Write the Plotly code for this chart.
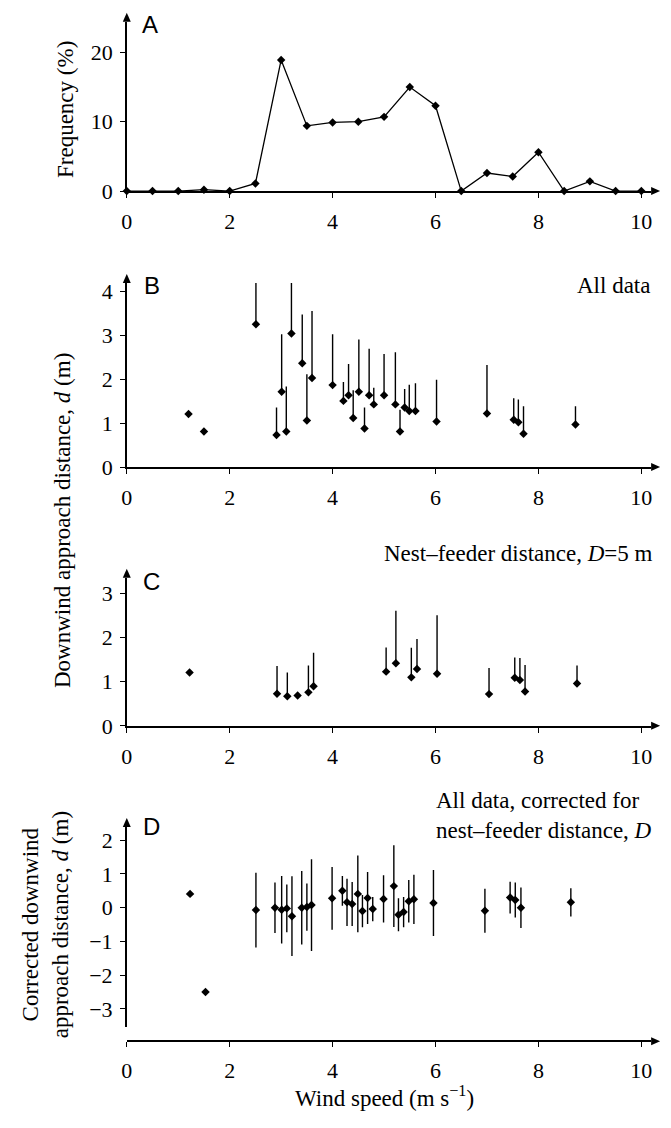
import plotly.graph_objects as go

OFF = 8  # default page body margin of the browser
W, H = 671 - 2 * OFF, 1128 - 2 * OFF


def px(x):
    return (x - OFF) / W


def py(y):
    return 1 - (y - OFF) / H


# ---------------- Data ----------------
# Panel A: frequency distribution of wind speed
a_wind = [0, 0.5, 1, 1.5, 2, 2.5, 3, 3.5, 4, 4.5, 5, 5.5, 6, 6.5, 7, 7.5, 8, 8.5, 9, 9.5, 10]
a_freq = [0, 0, 0, 0.2, 0, 1.1, 18.9, 9.4, 9.9, 10.0, 10.7, 15.0, 12.3, 0, 2.6, 2.1, 5.6, 0, 1.4, 0, 0]

# Panel B: all data (mean and upper whisker end)
b_wind = [1.20, 1.50, 2.51, 2.91, 3.01, 3.10, 3.20, 3.41, 3.50, 3.60, 4.00, 4.21, 4.31, 4.40, 4.51,
          4.62, 4.71, 4.80, 5.00, 5.22, 5.31, 5.40, 5.49, 5.61, 6.02, 7.00, 7.52, 7.61, 7.71, 8.72]
b_dist = [1.21, 0.81, 3.26, 0.73, 1.72, 0.81, 3.05, 2.37, 1.06, 2.03, 1.87, 1.51, 1.64, 1.12, 1.72,
          0.88, 1.64, 1.43, 1.64, 1.43, 0.81, 1.36, 1.28, 1.28, 1.04, 1.22, 1.08, 1.02, 0.76, 0.97]
b_upper = [None, None, 4.40, 1.36, 3.03, 1.84, 4.23, 3.48, 2.12, 3.56, 3.03, 1.94, 2.35, 1.75, 2.91,
           1.36, 2.70, 1.81, 2.58, 2.62, 1.31, 1.78, 1.88, 1.91, 1.99, 2.33, 1.57, 1.54, 1.39, 1.39]

# Panel C: nest-feeder distance D = 5 m
c_wind = [1.22, 2.92, 3.12, 3.32, 3.53, 3.63, 5.04, 5.23, 5.53, 5.64, 6.03, 7.04, 7.54, 7.64, 7.74, 8.75]
c_dist = [1.21, 0.73, 0.67, 0.69, 0.76, 0.90, 1.23, 1.42, 1.10, 1.29, 1.18, 0.72, 1.09, 1.04, 0.78, 0.96]
c_upper = [None, 1.36, 1.21, None, 1.37, 1.66, 1.78, 2.61, 1.77, 1.97, 2.51, 1.31, 1.55, 1.54, 1.38, 1.37]

# Panel D: corrected for nest-feeder distance (mean +/- error)
d_wind = [1.23, 1.53, 2.51, 2.88, 3.01, 3.11, 3.21, 3.40, 3.50, 3.59, 3.99, 4.19, 4.28, 4.38, 4.49,
          4.58, 4.68, 4.78, 4.99, 5.19, 5.28, 5.38, 5.48, 5.58, 5.96, 6.96, 7.45, 7.55, 7.66, 8.63]
d_corr = [0.41, -2.50, -0.07, 0.00, -0.06, -0.02, -0.25, 0.00, 0.02, 0.08, 0.28, 0.50, 0.16, 0.11, 0.41,
          -0.10, 0.29, -0.04, 0.26, 0.64, -0.21, -0.13, 0.19, 0.25, 0.14, -0.09, 0.30, 0.23, 0.00, 0.16]
d_err = [0, 0, 1.11, 0.75, 1.00, 0.71, 1.18, 1.09, 0.70, 1.36, 0.93, 0.44, 0.70, 0.65, 1.14,
         0.48, 0.77, 0.36, 0.70, 1.21, 0.49, 0.45, 0.63, 0.73, 0.98, 0.65, 0.47, 0.52, 0.60, 0.42]

x_ticks = [0, 2, 4, 6, 8, 10]

# ---------------- Figure ----------------
BLACK = "black"
FONT = "Liberation Serif, Times New Roman, serif"
mk = dict(symbol="diamond", size=6.5, color=BLACK, line=dict(width=0))


def up_err(vals, tops):
    return [0 if t is None else t - v for v, t in zip(vals, tops)]


fig = go.Figure()

fig.add_trace(go.Scatter(x=a_wind, y=a_freq, mode="lines+markers", marker=mk,
                         line=dict(color=BLACK, width=1.3), xaxis="x", yaxis="y",
                         cliponaxis=False, showlegend=False))

fig.add_trace(go.Scatter(x=b_wind, y=b_dist, mode="markers", marker=mk,
                         error_y=dict(type="data", symmetric=False, array=up_err(b_dist, b_upper),
                                      arrayminus=[0] * len(b_dist), width=0, thickness=1.4, color=BLACK),
                         xaxis="x2", yaxis="y2", cliponaxis=False, showlegend=False))

fig.add_trace(go.Scatter(x=c_wind, y=c_dist, mode="markers", marker=mk,
                         error_y=dict(type="data", symmetric=False, array=up_err(c_dist, c_upper),
                                      arrayminus=[0] * len(c_dist), width=0, thickness=1.4, color=BLACK),
                         xaxis="x3", yaxis="y3", cliponaxis=False, showlegend=False))

fig.add_trace(go.Scatter(x=d_wind, y=d_corr, mode="markers", marker=mk,
                         error_y=dict(type="data", array=d_err, width=0, thickness=1.4, color=BLACK),
                         xaxis="x4", yaxis="y4", cliponaxis=False, showlegend=False))

XDOM = [px(122), px(652)]
XRANGE = [0, 10.19]


def xax(anchor, **kw):
    d = dict(domain=XDOM, range=XRANGE, anchor=anchor, showline=True, linecolor=BLACK, linewidth=1.5,
             ticks="outside", ticklen=5, tickwidth=1.4, tickcolor=BLACK, tickvals=x_ticks,
             showgrid=False, zeroline=False, tickfont=dict(family=FONT, size=22, color=BLACK),
             ticklabelstandoff=5, fixedrange=True)
    d.update(kw)
    return d


def yax(anchor, dom, rng, tv, **kw):
    d = dict(domain=dom, range=rng, anchor=anchor, showline=True, linecolor=BLACK, linewidth=1.5,
             ticks="outside", ticklen=5, tickwidth=1.4, tickcolor=BLACK, tickvals=tv,
             showgrid=False, zeroline=False, tickfont=dict(family=FONT, size=22, color=BLACK),
             ticklabelstandoff=3, fixedrange=True)
    d.update(kw)
    return d


X4_POS = py(1053.3)

fig.update_layout(
    width=W, height=H,
    margin=dict(l=0, r=0, t=0, b=0),
    paper_bgcolor="white", plot_bgcolor="white",
    font=dict(family=FONT, size=22, color=BLACK),
    showlegend=False,
    xaxis=xax("y"),
    yaxis=yax("x", [py(190.7), py(19)], [0, 24.4], [0, 10, 20]),
    xaxis2=xax("y2"),
    yaxis2=yax("x2", [py(470.7), py(284)], [0, 4.2], [0, 1, 2, 3, 4]),
    xaxis3=xax("y3"),
    yaxis3=yax("x3", [py(733.3), py(583)], [0, 3.36], [0, 1, 2, 3]),
    xaxis4=xax("free", position=X4_POS),
    yaxis4=yax("x4", [py(1039.3), py(836)], [-3.55, 2.39], [-3, -2, -1, 0, 1, 2]),
)

# axis arrowheads (filled triangles, sized in pixels)
UP = "M0,9 L-4,0 L4,0 Z"
RIGHT = "M9,0 L0,4 L0,-4 Z"
shapes = []
for s in ["", "2", "3", "4"]:
    shapes.append(dict(type="path", xref=f"x{s} domain", yref=f"y{s} domain",
                       xsizemode="pixel", ysizemode="pixel", xanchor=0, yanchor=1,
                       path=UP, fillcolor=BLACK, line=dict(width=0)))
for s in ["", "2", "3"]:
    shapes.append(dict(type="path", xref=f"x{s} domain", yref=f"y{s} domain",
                       xsizemode="pixel", ysizemode="pixel", xanchor=1, yanchor=0,
                       path=RIGHT, fillcolor=BLACK, line=dict(width=0)))
shapes.append(dict(type="path", xref="x4 domain", yref="paper",
                   xsizemode="pixel", ysizemode="pixel", xanchor=1, yanchor=X4_POS,
                   path=RIGHT, fillcolor=BLACK, line=dict(width=0)))

ann = []
# panel letters
for letter, (lx, ly) in zip("ABCD", [(145, 21.7), (147, 286.7), (147, 586.7), (147, 835)]):
    ann.append(dict(xref="paper", yref="paper", x=px(lx), y=py(ly), text=letter, showarrow=False,
                    xanchor="center", yanchor="middle",
                    font=dict(family="Liberation Sans, Arial, sans-serif", size=24, color=BLACK)))

# panel notes
ann.append(dict(xref="paper", yref="paper", x=px(653), y=py(286), text="All data", showarrow=False,
                xanchor="right", yanchor="middle", font=dict(family=FONT, size=23, color=BLACK)))
ann.append(dict(xref="paper", yref="paper", x=px(656), y=py(558),
                text="Nest\u2013feeder distance, <i>D</i>=5 m", showarrow=False,
                xanchor="right", yanchor="middle", font=dict(family=FONT, size=23, color=BLACK)))
ann.append(dict(xref="paper", yref="paper", x=px(433), y=py(824),
                text="All data, corrected for<br>nest\u2013feeder distance, <i>D</i>", showarrow=False,
                xanchor="left", yanchor="middle", align="left",
                font=dict(family=FONT, size=23, color=BLACK)))

# axis titles
ann.append(dict(xref="paper", yref="paper", x=px(60), y=py(108), text="Frequency (%)", textangle=-90,
                showarrow=False, xanchor="center", yanchor="middle",
                font=dict(family=FONT, size=23, color=BLACK)))
ann.append(dict(xref="paper", yref="paper", x=px(57), y=py(525),
                text="Downwind approach distance, <i>d</i> (m)", textangle=-90,
                showarrow=False, xanchor="center", yanchor="middle",
                font=dict(family=FONT, size=23, color=BLACK)))
ann.append(dict(xref="paper", yref="paper", x=px(40), y=py(935),
                text="Corrected downwind<br>approach distance, <i>d</i> (m)", textangle=-90,
                showarrow=False, xanchor="center", yanchor="middle",
                font=dict(family=FONT, size=23, color=BLACK)))
ann.append(dict(xref="paper", yref="paper", x=px(382), y=py(1109),
                text="Wind speed (m s<sup>\u22121</sup>)",
                showarrow=False, xanchor="center", yanchor="middle",
                font=dict(family=FONT, size=23, color=BLACK)))

fig.update_layout(annotations=ann, shapes=shapes)

fig.write_html("out.html")
